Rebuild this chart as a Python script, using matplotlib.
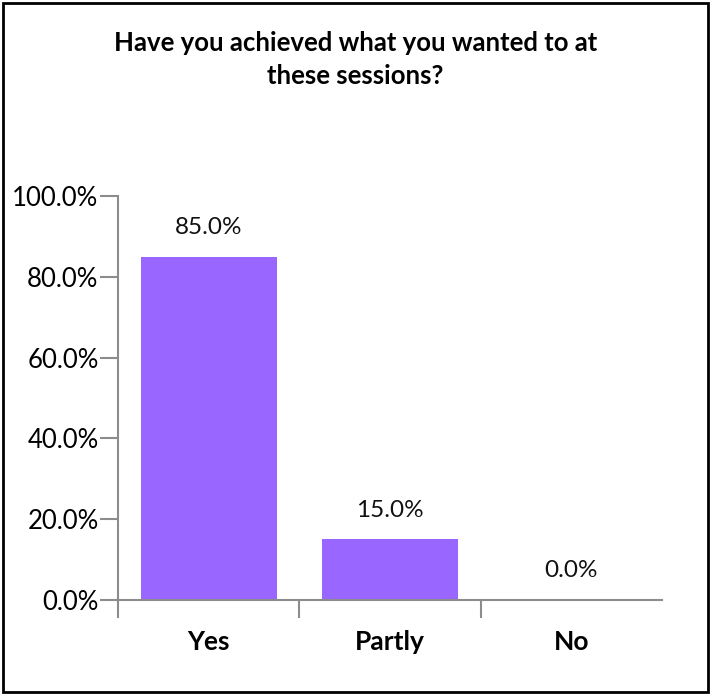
import matplotlib
matplotlib.use('Agg')
import matplotlib.pyplot as plt
from matplotlib.patches import Rectangle
from matplotlib.ticker import FixedLocator

categories = ['Yes', 'Partly', 'No']
values = [85.0, 15.0, 0.0]
yticks = [0, 20, 40, 60, 80, 100]
title = 'Have you achieved what you wanted to at\nthese sessions?'

plt.rcParams['font.family'] = ['Lato', 'DejaVu Sans']

fig = plt.figure(figsize=(7.11, 6.95), dpi=100)
ax = fig.add_axes([0.166, 0.137, 0.765, 0.581])

x = range(len(categories))
ax.bar(x, values, width=0.75, color='#9966ff')

for xi, v in zip(x, values):
    ax.annotate(f'{v:.1f}%', (xi, v), xytext=(0, 21), textcoords='offset points',
                ha='center', va='center', fontsize=17.5, color='#111111')

ax.set_xlim(-0.5, 2.5)
ax.set_ylim(0, 100)
ax.set_yticks(yticks)
ax.set_yticklabels([f'{t:.1f}%' for t in yticks], fontsize=18.5)
ax.set_xticks(list(x))
ax.set_xticklabels(categories, fontsize=19, fontweight='bold')
ax.xaxis.set_minor_locator(FixedLocator([-0.5, 0.5, 1.5]))

gray = '#8c8c8c'
for s in ['top', 'right']:
    ax.spines[s].set_visible(False)
for s in ['left', 'bottom']:
    ax.spines[s].set_color(gray)
    ax.spines[s].set_linewidth(1.5)

ax.tick_params(axis='y', length=13, width=1.5, color=gray, pad=1, labelcolor='black')
ax.tick_params(axis='x', which='major', length=0, pad=22, labelcolor='black')
ax.tick_params(axis='x', which='minor', length=13, width=1.5, color=gray)

fig.text(0.5, 0.955, title, ha='center', va='top', fontsize=18.5, fontweight='bold',
         linespacing=1.45)

fig.patches.append(Rectangle((0.004, 0.004), 0.992, 0.992, transform=fig.transFigure,
                             fill=False, edgecolor='black', linewidth=2))

fig.savefig('out.png', dpi=100)
